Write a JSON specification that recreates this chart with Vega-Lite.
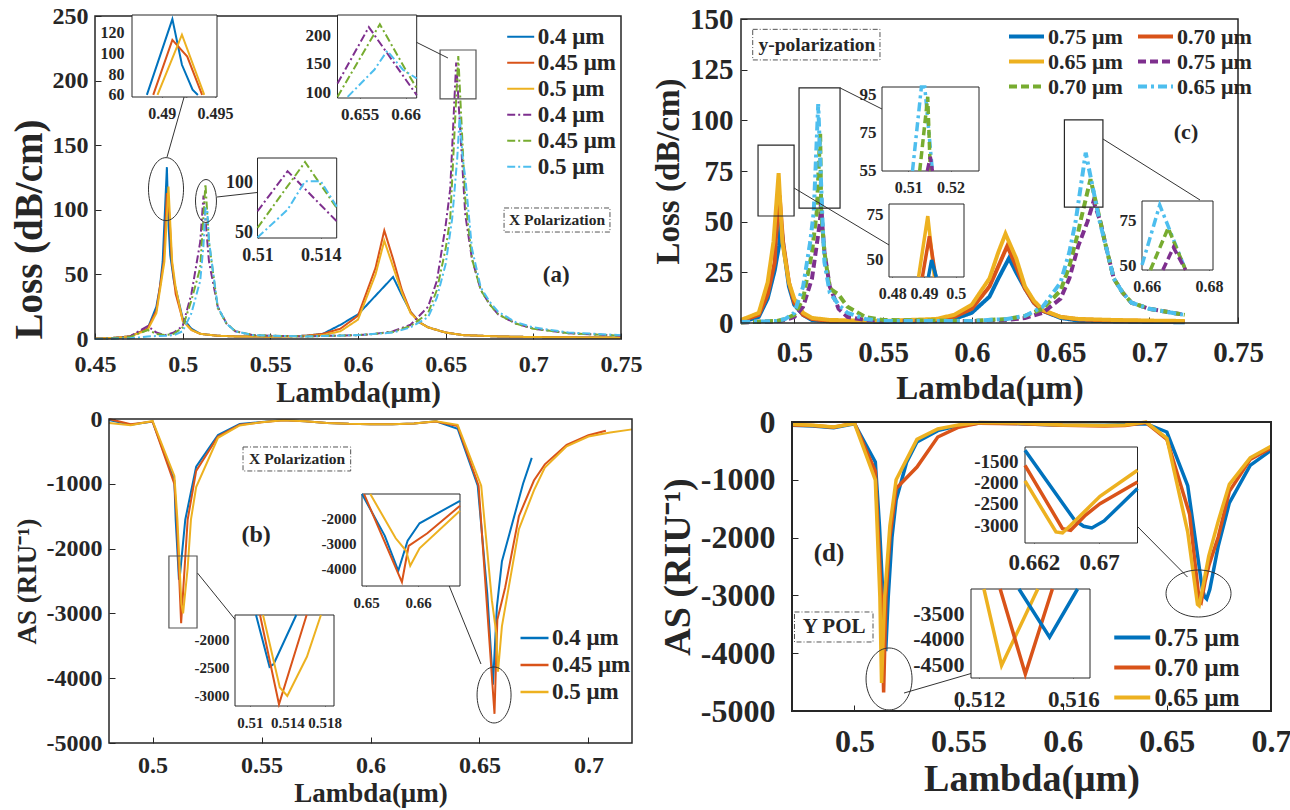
{
"$schema":"https://vega.github.io/schema/vega-lite/v6.json",
"width":1290,"height":810,"padding":0,"autosize":{"type":"none"},"background":"white",
"config":{"view":{"stroke":null},"font":"Liberation Serif",
 "locale":{"number":{"decimal":".","thousands":",","grouping":[3],"currency":["$",""],"minus":"-"}},
 "axis":{"labelFont":"Liberation Serif","titleFont":"Liberation Serif","labelFontWeight":"bold","titleFontWeight":"bold","labelColor":"#262626","titleColor":"#262626","tickColor":"#262626","domain":false,"grid":false,"labelOverlap":false,"labelFlush":false,"zindex":1,"tickWidth":1},
 "text":{"font":"Liberation Serif","fontWeight":"bold","color":"#262626"}},
"datasets":{
"A":[
{"k":"f","x":0.45,"x2":0.75,"y":0,"y2":250},
{"k":"bx","x":0.6833,"x2":0.7437,"y":82.8,"y2":101.4},
{"k":"lbl","x":0.7135,"y":92.1,"t":"X Polarization"},
{"k":"pl","x":0.713,"y":49.5,"t":"(a)"},
{"k":"rc","x":0.6468,"x2":0.6673,"y":185.8,"y2":223.7},
{"k":"ar","x":0.4911,"y":140.9,"x2":0.5013,"y2":189.6},
{"k":"ar","x":0.5196,"y":109.9,"x2":0.5452,"y2":113.8},
{"k":"ar","x":0.6513,"y":217.5,"x2":0.6228,"y2":236.8},
{"k":"h1","x":0.5013,"y":189.6},
{"k":"h2","x":0.5452,"y":113.8},
{"k":"h3","x":0.6228,"y":236.8},
{"k":"e1","x":0.4905,"y":116},
{"k":"e2","x":0.5133,"y":106.8},
{"k":"f1","x":0.4872,"x2":0.4952,"y":58,"y2":137},
{"k":"f2","x":0.6526,"x2":0.6612,"y":91,"y2":235},
{"k":"f3","x":0.51,"x2":0.515,"y":45,"y2":124},
{"k":"m","s":"0.4 μm|1","x":0.45,"y":0.3},{"k":"m","s":"0.4 μm|1","x":0.46,"y":0.8},{"k":"m","s":"0.4 μm|1","x":0.47,"y":2},{"k":"m","s":"0.4 μm|1","x":0.48,"y":8},{"k":"m","s":"0.4 μm|1","x":0.485,"y":25},{"k":"m","s":"0.4 μm|1","x":0.487,"y":40},{"k":"m","s":"0.4 μm|1","x":0.4886,"y":60},{"k":"m","s":"0.4 μm|1","x":0.491,"y":133},{"k":"m","s":"0.4 μm|1","x":0.4919,"y":89},{"k":"m","s":"0.4 μm|1","x":0.4929,"y":65},{"k":"m","s":"0.4 μm|1","x":0.495,"y":45},{"k":"m","s":"0.4 μm|1","x":0.5,"y":16},{"k":"m","s":"0.4 μm|1","x":0.505,"y":8},{"k":"m","s":"0.4 μm|1","x":0.51,"y":4},{"k":"m","s":"0.4 μm|1","x":0.52,"y":2.5},{"k":"m","s":"0.4 μm|1","x":0.53,"y":2},{"k":"m","s":"0.4 μm|1","x":0.55,"y":1.8},{"k":"m","s":"0.4 μm|1","x":0.57,"y":2.5},{"k":"m","s":"0.4 μm|1","x":0.58,"y":4},{"k":"m","s":"0.4 μm|1","x":0.59,"y":11},{"k":"m","s":"0.4 μm|1","x":0.6,"y":19},{"k":"m","s":"0.4 μm|1","x":0.62,"y":48},{"k":"m","s":"0.4 μm|1","x":0.625,"y":34},{"k":"m","s":"0.4 μm|1","x":0.63,"y":21},{"k":"m","s":"0.4 μm|1","x":0.635,"y":13},{"k":"m","s":"0.4 μm|1","x":0.64,"y":9},{"k":"m","s":"0.4 μm|1","x":0.65,"y":5},{"k":"m","s":"0.4 μm|1","x":0.66,"y":3},{"k":"m","s":"0.4 μm|1","x":0.68,"y":2},{"k":"m","s":"0.4 μm|1","x":0.7,"y":1.5},{"k":"m","s":"0.4 μm|1","x":0.75,"y":1},
{"k":"m","s":"0.45 μm|2","x":0.45,"y":0.3},{"k":"m","s":"0.45 μm|2","x":0.46,"y":0.8},{"k":"m","s":"0.45 μm|2","x":0.47,"y":2},{"k":"m","s":"0.45 μm|2","x":0.48,"y":8},{"k":"m","s":"0.45 μm|2","x":0.485,"y":22},{"k":"m","s":"0.45 μm|2","x":0.4892,"y":60},{"k":"m","s":"0.45 μm|2","x":0.491,"y":113},{"k":"m","s":"0.45 μm|2","x":0.4924,"y":97},{"k":"m","s":"0.45 μm|2","x":0.4938,"y":60},{"k":"m","s":"0.45 μm|2","x":0.496,"y":35},{"k":"m","s":"0.45 μm|2","x":0.5,"y":15},{"k":"m","s":"0.45 μm|2","x":0.505,"y":7},{"k":"m","s":"0.45 μm|2","x":0.51,"y":4},{"k":"m","s":"0.45 μm|2","x":0.52,"y":2.5},{"k":"m","s":"0.45 μm|2","x":0.53,"y":2},{"k":"m","s":"0.45 μm|2","x":0.55,"y":1.8},{"k":"m","s":"0.45 μm|2","x":0.57,"y":2.5},{"k":"m","s":"0.45 μm|2","x":0.58,"y":4},{"k":"m","s":"0.45 μm|2","x":0.59,"y":8},{"k":"m","s":"0.45 μm|2","x":0.6,"y":18},{"k":"m","s":"0.45 μm|2","x":0.61,"y":55},{"k":"m","s":"0.45 μm|2","x":0.615,"y":84},{"k":"m","s":"0.45 μm|2","x":0.62,"y":62},{"k":"m","s":"0.45 μm|2","x":0.625,"y":38},{"k":"m","s":"0.45 μm|2","x":0.63,"y":21},{"k":"m","s":"0.45 μm|2","x":0.635,"y":13},{"k":"m","s":"0.45 μm|2","x":0.64,"y":9},{"k":"m","s":"0.45 μm|2","x":0.65,"y":5},{"k":"m","s":"0.45 μm|2","x":0.66,"y":3},{"k":"m","s":"0.45 μm|2","x":0.68,"y":2},{"k":"m","s":"0.45 μm|2","x":0.7,"y":1.5},{"k":"m","s":"0.45 μm|2","x":0.75,"y":1},
{"k":"m","s":"0.5 μm|3","x":0.45,"y":0.3},{"k":"m","s":"0.5 μm|3","x":0.46,"y":0.8},{"k":"m","s":"0.5 μm|3","x":0.47,"y":2},{"k":"m","s":"0.5 μm|3","x":0.48,"y":7},{"k":"m","s":"0.5 μm|3","x":0.485,"y":20},{"k":"m","s":"0.5 μm|3","x":0.4896,"y":60},{"k":"m","s":"0.5 μm|3","x":0.4919,"y":118},{"k":"m","s":"0.5 μm|3","x":0.494,"y":60},{"k":"m","s":"0.5 μm|3","x":0.496,"y":40},{"k":"m","s":"0.5 μm|3","x":0.5,"y":14},{"k":"m","s":"0.5 μm|3","x":0.505,"y":7},{"k":"m","s":"0.5 μm|3","x":0.51,"y":4},{"k":"m","s":"0.5 μm|3","x":0.52,"y":2.5},{"k":"m","s":"0.5 μm|3","x":0.53,"y":2},{"k":"m","s":"0.5 μm|3","x":0.55,"y":1.8},{"k":"m","s":"0.5 μm|3","x":0.57,"y":2.2},{"k":"m","s":"0.5 μm|3","x":0.58,"y":3},{"k":"m","s":"0.5 μm|3","x":0.59,"y":6},{"k":"m","s":"0.5 μm|3","x":0.6,"y":15},{"k":"m","s":"0.5 μm|3","x":0.61,"y":50},{"k":"m","s":"0.5 μm|3","x":0.615,"y":76},{"k":"m","s":"0.5 μm|3","x":0.62,"y":56},{"k":"m","s":"0.5 μm|3","x":0.625,"y":36},{"k":"m","s":"0.5 μm|3","x":0.63,"y":20},{"k":"m","s":"0.5 μm|3","x":0.635,"y":13},{"k":"m","s":"0.5 μm|3","x":0.64,"y":9},{"k":"m","s":"0.5 μm|3","x":0.65,"y":5},{"k":"m","s":"0.5 μm|3","x":0.66,"y":3},{"k":"m","s":"0.5 μm|3","x":0.68,"y":2},{"k":"m","s":"0.5 μm|3","x":0.7,"y":1.5},{"k":"m","s":"0.5 μm|3","x":0.75,"y":1},
{"k":"m","s":"0.4 μm|4","x":0.45,"y":0},{"k":"m","s":"0.4 μm|4","x":0.46,"y":0.5},{"k":"m","s":"0.4 μm|4","x":0.47,"y":2},{"k":"m","s":"0.4 μm|4","x":0.48,"y":10},{"k":"m","s":"0.4 μm|4","x":0.485,"y":5},{"k":"m","s":"0.4 μm|4","x":0.49,"y":3},{"k":"m","s":"0.4 μm|4","x":0.495,"y":5},{"k":"m","s":"0.4 μm|4","x":0.5,"y":10},{"k":"m","s":"0.4 μm|4","x":0.505,"y":35},{"k":"m","s":"0.4 μm|4","x":0.51,"y":75},{"k":"m","s":"0.4 μm|4","x":0.5119,"y":111},{"k":"m","s":"0.4 μm|4","x":0.515,"y":60},{"k":"m","s":"0.4 μm|4","x":0.52,"y":25},{"k":"m","s":"0.4 μm|4","x":0.525,"y":12},{"k":"m","s":"0.4 μm|4","x":0.53,"y":6},{"k":"m","s":"0.4 μm|4","x":0.54,"y":3},{"k":"m","s":"0.4 μm|4","x":0.55,"y":2.5},{"k":"m","s":"0.4 μm|4","x":0.57,"y":2},{"k":"m","s":"0.4 μm|4","x":0.6,"y":3},{"k":"m","s":"0.4 μm|4","x":0.61,"y":4},{"k":"m","s":"0.4 μm|4","x":0.62,"y":6},{"k":"m","s":"0.4 μm|4","x":0.63,"y":11},{"k":"m","s":"0.4 μm|4","x":0.64,"y":25},{"k":"m","s":"0.4 μm|4","x":0.645,"y":45},{"k":"m","s":"0.4 μm|4","x":0.65,"y":88},{"k":"m","s":"0.4 μm|4","x":0.6526,"y":116},{"k":"m","s":"0.4 μm|4","x":0.656,"y":214},{"k":"m","s":"0.4 μm|4","x":0.6612,"y":96},{"k":"m","s":"0.4 μm|4","x":0.665,"y":62},{"k":"m","s":"0.4 μm|4","x":0.67,"y":38},{"k":"m","s":"0.4 μm|4","x":0.675,"y":27},{"k":"m","s":"0.4 μm|4","x":0.68,"y":19},{"k":"m","s":"0.4 μm|4","x":0.69,"y":12},{"k":"m","s":"0.4 μm|4","x":0.7,"y":8},{"k":"m","s":"0.4 μm|4","x":0.72,"y":4.5},{"k":"m","s":"0.4 μm|4","x":0.75,"y":2.5},
{"k":"m","s":"0.45 μm|5","x":0.45,"y":0},{"k":"m","s":"0.45 μm|5","x":0.46,"y":0.5},{"k":"m","s":"0.45 μm|5","x":0.47,"y":1.5},{"k":"m","s":"0.45 μm|5","x":0.48,"y":7},{"k":"m","s":"0.45 μm|5","x":0.485,"y":4},{"k":"m","s":"0.45 μm|5","x":0.49,"y":3},{"k":"m","s":"0.45 μm|5","x":0.495,"y":4},{"k":"m","s":"0.45 μm|5","x":0.5,"y":9},{"k":"m","s":"0.45 μm|5","x":0.505,"y":30},{"k":"m","s":"0.45 μm|5","x":0.51,"y":55},{"k":"m","s":"0.45 μm|5","x":0.513,"y":120},{"k":"m","s":"0.45 μm|5","x":0.515,"y":75},{"k":"m","s":"0.45 μm|5","x":0.52,"y":24},{"k":"m","s":"0.45 μm|5","x":0.525,"y":12},{"k":"m","s":"0.45 μm|5","x":0.53,"y":6},{"k":"m","s":"0.45 μm|5","x":0.54,"y":3},{"k":"m","s":"0.45 μm|5","x":0.55,"y":2.5},{"k":"m","s":"0.45 μm|5","x":0.57,"y":2},{"k":"m","s":"0.45 μm|5","x":0.6,"y":3},{"k":"m","s":"0.45 μm|5","x":0.61,"y":4},{"k":"m","s":"0.45 μm|5","x":0.62,"y":5.5},{"k":"m","s":"0.45 μm|5","x":0.63,"y":10},{"k":"m","s":"0.45 μm|5","x":0.64,"y":20},{"k":"m","s":"0.45 μm|5","x":0.645,"y":38},{"k":"m","s":"0.45 μm|5","x":0.65,"y":70},{"k":"m","s":"0.45 μm|5","x":0.6526,"y":93},{"k":"m","s":"0.45 μm|5","x":0.6572,"y":219},{"k":"m","s":"0.45 μm|5","x":0.66,"y":140},{"k":"m","s":"0.45 μm|5","x":0.6612,"y":108},{"k":"m","s":"0.45 μm|5","x":0.665,"y":62},{"k":"m","s":"0.45 μm|5","x":0.67,"y":38},{"k":"m","s":"0.45 μm|5","x":0.675,"y":27},{"k":"m","s":"0.45 μm|5","x":0.68,"y":19},{"k":"m","s":"0.45 μm|5","x":0.69,"y":12},{"k":"m","s":"0.45 μm|5","x":0.7,"y":8},{"k":"m","s":"0.45 μm|5","x":0.72,"y":4.5},{"k":"m","s":"0.45 μm|5","x":0.75,"y":2.5},
{"k":"m","s":"0.5 μm|6","x":0.45,"y":0},{"k":"m","s":"0.5 μm|6","x":0.47,"y":0.5},{"k":"m","s":"0.5 μm|6","x":0.48,"y":2},{"k":"m","s":"0.5 μm|6","x":0.49,"y":2.5},{"k":"m","s":"0.5 μm|6","x":0.495,"y":3},{"k":"m","s":"0.5 μm|6","x":0.5,"y":6},{"k":"m","s":"0.5 μm|6","x":0.505,"y":20},{"k":"m","s":"0.5 μm|6","x":0.51,"y":45},{"k":"m","s":"0.5 μm|6","x":0.5119,"y":73},{"k":"m","s":"0.5 μm|6","x":0.513,"y":101},{"k":"m","s":"0.5 μm|6","x":0.514,"y":101},{"k":"m","s":"0.5 μm|6","x":0.515,"y":76},{"k":"m","s":"0.5 μm|6","x":0.52,"y":25},{"k":"m","s":"0.5 μm|6","x":0.525,"y":12},{"k":"m","s":"0.5 μm|6","x":0.53,"y":6},{"k":"m","s":"0.5 μm|6","x":0.54,"y":3},{"k":"m","s":"0.5 μm|6","x":0.55,"y":2.5},{"k":"m","s":"0.5 μm|6","x":0.57,"y":2},{"k":"m","s":"0.5 μm|6","x":0.6,"y":3},{"k":"m","s":"0.5 μm|6","x":0.61,"y":4},{"k":"m","s":"0.5 μm|6","x":0.62,"y":5},{"k":"m","s":"0.5 μm|6","x":0.63,"y":9},{"k":"m","s":"0.5 μm|6","x":0.64,"y":17},{"k":"m","s":"0.5 μm|6","x":0.645,"y":32},{"k":"m","s":"0.5 μm|6","x":0.65,"y":58},{"k":"m","s":"0.5 μm|6","x":0.6537,"y":93},{"k":"m","s":"0.5 μm|6","x":0.6566,"y":140},{"k":"m","s":"0.5 μm|6","x":0.658,"y":173},{"k":"m","s":"0.5 μm|6","x":0.6597,"y":140},{"k":"m","s":"0.5 μm|6","x":0.6612,"y":125},{"k":"m","s":"0.5 μm|6","x":0.665,"y":70},{"k":"m","s":"0.5 μm|6","x":0.67,"y":40},{"k":"m","s":"0.5 μm|6","x":0.675,"y":29},{"k":"m","s":"0.5 μm|6","x":0.68,"y":21},{"k":"m","s":"0.5 μm|6","x":0.69,"y":13},{"k":"m","s":"0.5 μm|6","x":0.7,"y":9},{"k":"m","s":"0.5 μm|6","x":0.72,"y":5},{"k":"m","s":"0.5 μm|6","x":0.75,"y":3},
{"k":"i1","s":"0.4 μm|1","x":0.4886,"y":60},{"k":"i1","s":"0.4 μm|1","x":0.491,"y":133},{"k":"i1","s":"0.4 μm|1","x":0.4919,"y":89},{"k":"i1","s":"0.4 μm|1","x":0.4929,"y":65},{"k":"i1","s":"0.4 μm|1","x":0.4934,"y":60},
{"k":"i1","s":"0.45 μm|2","x":0.4892,"y":60},{"k":"i1","s":"0.45 μm|2","x":0.491,"y":113},{"k":"i1","s":"0.45 μm|2","x":0.4924,"y":97},{"k":"i1","s":"0.45 μm|2","x":0.4938,"y":60},
{"k":"i1","s":"0.5 μm|3","x":0.4896,"y":60},{"k":"i1","s":"0.5 μm|3","x":0.4919,"y":118},{"k":"i1","s":"0.5 μm|3","x":0.494,"y":60},
{"k":"i2","s":"0.4 μm|4","x":0.6526,"y":116},{"k":"i2","s":"0.4 μm|4","x":0.656,"y":214},{"k":"i2","s":"0.4 μm|4","x":0.6612,"y":96},
{"k":"i2","s":"0.45 μm|5","x":0.6526,"y":93},{"k":"i2","s":"0.45 μm|5","x":0.6572,"y":219},{"k":"i2","s":"0.45 μm|5","x":0.66,"y":140},{"k":"i2","s":"0.45 μm|5","x":0.6612,"y":108},
{"k":"i2","s":"0.5 μm|6","x":0.6537,"y":93},{"k":"i2","s":"0.5 μm|6","x":0.6566,"y":140},{"k":"i2","s":"0.5 μm|6","x":0.658,"y":173},{"k":"i2","s":"0.5 μm|6","x":0.6597,"y":140},{"k":"i2","s":"0.5 μm|6","x":0.6612,"y":125},
{"k":"i3","s":"0.4 μm|4","x":0.51,"y":71.4},{"k":"i3","s":"0.4 μm|4","x":0.5119,"y":111},{"k":"i3","s":"0.4 μm|4","x":0.515,"y":61.5},
{"k":"i3","s":"0.45 μm|5","x":0.51,"y":55},{"k":"i3","s":"0.45 μm|5","x":0.513,"y":120},{"k":"i3","s":"0.45 μm|5","x":0.515,"y":74.7},
{"k":"i3","s":"0.5 μm|6","x":0.51,"y":45.5},{"k":"i3","s":"0.5 μm|6","x":0.5119,"y":73},{"k":"i3","s":"0.5 μm|6","x":0.513,"y":101},{"k":"i3","s":"0.5 μm|6","x":0.514,"y":101},{"k":"i3","s":"0.5 μm|6","x":0.515,"y":76}
],
"C":[
{"k":"f","x":0.47,"x2":0.75,"y":0,"y2":150},
{"k":"bx","x":0.4766,"x2":0.5483,"y":129.8,"y2":144.9},
{"k":"lbl","x":0.5128,"y":137.2,"t":"y-polarization"},
{"k":"pl","x":0.7207,"y":94.2,"t":"(c)"},
{"k":"rc","x":0.4796,"x2":0.4999,"y":52.8,"y2":87.8},
{"k":"rc","x":0.5027,"x2":0.5258,"y":56.7,"y2":116},
{"k":"rc","x":0.6522,"x2":0.6739,"y":57.2,"y2":100.2},
{"k":"ar","x":0.5258,"y":116,"x2":0.5494,"y2":105.6},
{"k":"ar","x":0.4999,"y":66.6,"x2":0.5534,"y2":38.5},
{"k":"ar","x":0.6739,"y":90.8,"x2":0.7286,"y2":60.7},
{"k":"f1","x":0.5038,"x2":0.5267,"y":54.5,"y2":98.7},
{"k":"f2","x":0.479,"x2":0.5026,"y":40.7,"y2":80.6},
{"k":"f3","x":0.6585,"x2":0.6813,"y":47.2,"y2":86.3},
{"k":"m","s":"0.75 μm|1","x":0.47,"y":0.5},{"k":"m","s":"0.75 μm|1","x":0.48,"y":3},{"k":"m","s":"0.75 μm|1","x":0.485,"y":12},{"k":"m","s":"0.75 μm|1","x":0.489,"y":26},{"k":"m","s":"0.75 μm|1","x":0.4914,"y":38},{"k":"m","s":"0.75 μm|1","x":0.4924,"y":50},{"k":"m","s":"0.75 μm|1","x":0.4939,"y":38},{"k":"m","s":"0.75 μm|1","x":0.497,"y":18},{"k":"m","s":"0.75 μm|1","x":0.5,"y":9},{"k":"m","s":"0.75 μm|1","x":0.505,"y":4},{"k":"m","s":"0.75 μm|1","x":0.51,"y":1.5},{"k":"m","s":"0.75 μm|1","x":0.52,"y":0.8},{"k":"m","s":"0.75 μm|1","x":0.55,"y":0.5},{"k":"m","s":"0.75 μm|1","x":0.58,"y":1},{"k":"m","s":"0.75 μm|1","x":0.59,"y":2},{"k":"m","s":"0.75 μm|1","x":0.6,"y":5},{"k":"m","s":"0.75 μm|1","x":0.61,"y":13},{"k":"m","s":"0.75 μm|1","x":0.615,"y":22},{"k":"m","s":"0.75 μm|1","x":0.621,"y":32},{"k":"m","s":"0.75 μm|1","x":0.625,"y":25},{"k":"m","s":"0.75 μm|1","x":0.63,"y":17},{"k":"m","s":"0.75 μm|1","x":0.635,"y":10},{"k":"m","s":"0.75 μm|1","x":0.64,"y":6},{"k":"m","s":"0.75 μm|1","x":0.65,"y":2.5},{"k":"m","s":"0.75 μm|1","x":0.66,"y":1.2},{"k":"m","s":"0.75 μm|1","x":0.68,"y":0.8},{"k":"m","s":"0.75 μm|1","x":0.7,"y":0.5},{"k":"m","s":"0.75 μm|1","x":0.72,"y":0.4},
{"k":"m","s":"0.70 μm|2","x":0.47,"y":1},{"k":"m","s":"0.70 μm|2","x":0.48,"y":4},{"k":"m","s":"0.70 μm|2","x":0.485,"y":14},{"k":"m","s":"0.70 μm|2","x":0.489,"y":30},{"k":"m","s":"0.70 μm|2","x":0.4895,"y":40},{"k":"m","s":"0.70 μm|2","x":0.4917,"y":63},{"k":"m","s":"0.70 μm|2","x":0.4937,"y":40},{"k":"m","s":"0.70 μm|2","x":0.497,"y":20},{"k":"m","s":"0.70 μm|2","x":0.5,"y":10},{"k":"m","s":"0.70 μm|2","x":0.505,"y":4},{"k":"m","s":"0.70 μm|2","x":0.51,"y":2},{"k":"m","s":"0.70 μm|2","x":0.52,"y":1},{"k":"m","s":"0.70 μm|2","x":0.55,"y":0.8},{"k":"m","s":"0.70 μm|2","x":0.58,"y":1.5},{"k":"m","s":"0.70 μm|2","x":0.59,"y":3},{"k":"m","s":"0.70 μm|2","x":0.6,"y":7},{"k":"m","s":"0.70 μm|2","x":0.61,"y":18},{"k":"m","s":"0.70 μm|2","x":0.615,"y":28},{"k":"m","s":"0.70 μm|2","x":0.62,"y":38},{"k":"m","s":"0.70 μm|2","x":0.625,"y":28},{"k":"m","s":"0.70 μm|2","x":0.63,"y":17},{"k":"m","s":"0.70 μm|2","x":0.635,"y":10},{"k":"m","s":"0.70 μm|2","x":0.64,"y":6},{"k":"m","s":"0.70 μm|2","x":0.65,"y":3},{"k":"m","s":"0.70 μm|2","x":0.66,"y":1.8},{"k":"m","s":"0.70 μm|2","x":0.68,"y":1.2},{"k":"m","s":"0.70 μm|2","x":0.7,"y":1},{"k":"m","s":"0.70 μm|2","x":0.72,"y":0.8},
{"k":"m","s":"0.65 μm|3","x":0.47,"y":1.5},{"k":"m","s":"0.65 μm|3","x":0.48,"y":5},{"k":"m","s":"0.65 μm|3","x":0.485,"y":20},{"k":"m","s":"0.65 μm|3","x":0.4883,"y":40},{"k":"m","s":"0.65 μm|3","x":0.4912,"y":74},{"k":"m","s":"0.65 μm|3","x":0.4933,"y":40},{"k":"m","s":"0.65 μm|3","x":0.497,"y":20},{"k":"m","s":"0.65 μm|3","x":0.5,"y":12},{"k":"m","s":"0.65 μm|3","x":0.505,"y":5},{"k":"m","s":"0.65 μm|3","x":0.51,"y":2.5},{"k":"m","s":"0.65 μm|3","x":0.52,"y":1.5},{"k":"m","s":"0.65 μm|3","x":0.55,"y":1},{"k":"m","s":"0.65 μm|3","x":0.58,"y":2},{"k":"m","s":"0.65 μm|3","x":0.59,"y":4},{"k":"m","s":"0.65 μm|3","x":0.6,"y":9},{"k":"m","s":"0.65 μm|3","x":0.61,"y":22},{"k":"m","s":"0.65 μm|3","x":0.615,"y":35},{"k":"m","s":"0.65 μm|3","x":0.619,"y":44},{"k":"m","s":"0.65 μm|3","x":0.625,"y":32},{"k":"m","s":"0.65 μm|3","x":0.63,"y":18},{"k":"m","s":"0.65 μm|3","x":0.635,"y":11},{"k":"m","s":"0.65 μm|3","x":0.64,"y":6.5},{"k":"m","s":"0.65 μm|3","x":0.65,"y":3},{"k":"m","s":"0.65 μm|3","x":0.66,"y":2},{"k":"m","s":"0.65 μm|3","x":0.68,"y":1.5},{"k":"m","s":"0.65 μm|3","x":0.7,"y":1.2},{"k":"m","s":"0.65 μm|3","x":0.72,"y":1},
{"k":"m","s":"0.75 μm|4","x":0.47,"y":0.3},{"k":"m","s":"0.75 μm|4","x":0.49,"y":0.8},{"k":"m","s":"0.75 μm|4","x":0.495,"y":1.5},{"k":"m","s":"0.75 μm|4","x":0.5,"y":3},{"k":"m","s":"0.75 μm|4","x":0.505,"y":8},{"k":"m","s":"0.75 μm|4","x":0.51,"y":22},{"k":"m","s":"0.75 μm|4","x":0.5145,"y":50},{"k":"m","s":"0.75 μm|4","x":0.5152,"y":62},{"k":"m","s":"0.75 μm|4","x":0.5157,"y":50},{"k":"m","s":"0.75 μm|4","x":0.517,"y":35},{"k":"m","s":"0.75 μm|4","x":0.52,"y":18},{"k":"m","s":"0.75 μm|4","x":0.525,"y":7},{"k":"m","s":"0.75 μm|4","x":0.53,"y":3},{"k":"m","s":"0.75 μm|4","x":0.54,"y":1.5},{"k":"m","s":"0.75 μm|4","x":0.55,"y":1},{"k":"m","s":"0.75 μm|4","x":0.6,"y":1},{"k":"m","s":"0.75 μm|4","x":0.62,"y":1.5},{"k":"m","s":"0.75 μm|4","x":0.63,"y":2.5},{"k":"m","s":"0.75 μm|4","x":0.64,"y":5},{"k":"m","s":"0.75 μm|4","x":0.65,"y":12},{"k":"m","s":"0.75 μm|4","x":0.655,"y":22},{"k":"m","s":"0.75 μm|4","x":0.66,"y":38},{"k":"m","s":"0.75 μm|4","x":0.6652,"y":50},{"k":"m","s":"0.75 μm|4","x":0.6686,"y":60},{"k":"m","s":"0.75 μm|4","x":0.6725,"y":50},{"k":"m","s":"0.75 μm|4","x":0.675,"y":40},{"k":"m","s":"0.75 μm|4","x":0.68,"y":22},{"k":"m","s":"0.75 μm|4","x":0.685,"y":15},{"k":"m","s":"0.75 μm|4","x":0.69,"y":10},{"k":"m","s":"0.75 μm|4","x":0.7,"y":7},{"k":"m","s":"0.75 μm|4","x":0.72,"y":4},
{"k":"m","s":"0.70 μm|5","x":0.47,"y":0.3},{"k":"m","s":"0.70 μm|5","x":0.49,"y":1},{"k":"m","s":"0.70 μm|5","x":0.495,"y":2},{"k":"m","s":"0.70 μm|5","x":0.5,"y":4},{"k":"m","s":"0.70 μm|5","x":0.505,"y":12},{"k":"m","s":"0.70 μm|5","x":0.51,"y":35},{"k":"m","s":"0.70 μm|5","x":0.5127,"y":55},{"k":"m","s":"0.70 μm|5","x":0.5146,"y":93.6},{"k":"m","s":"0.70 μm|5","x":0.5152,"y":55},{"k":"m","s":"0.70 μm|5","x":0.517,"y":35},{"k":"m","s":"0.70 μm|5","x":0.52,"y":17},{"k":"m","s":"0.70 μm|5","x":0.525,"y":14},{"k":"m","s":"0.70 μm|5","x":0.53,"y":8},{"k":"m","s":"0.70 μm|5","x":0.54,"y":3},{"k":"m","s":"0.70 μm|5","x":0.55,"y":1.5},{"k":"m","s":"0.70 μm|5","x":0.6,"y":1},{"k":"m","s":"0.70 μm|5","x":0.62,"y":2},{"k":"m","s":"0.70 μm|5","x":0.63,"y":3.5},{"k":"m","s":"0.70 μm|5","x":0.64,"y":7},{"k":"m","s":"0.70 μm|5","x":0.65,"y":16},{"k":"m","s":"0.70 μm|5","x":0.655,"y":28},{"k":"m","s":"0.70 μm|5","x":0.66,"y":45},{"k":"m","s":"0.70 μm|5","x":0.6612,"y":50},{"k":"m","s":"0.70 μm|5","x":0.6669,"y":71},{"k":"m","s":"0.70 μm|5","x":0.6725,"y":50},{"k":"m","s":"0.70 μm|5","x":0.675,"y":40},{"k":"m","s":"0.70 μm|5","x":0.68,"y":22},{"k":"m","s":"0.70 μm|5","x":0.685,"y":15},{"k":"m","s":"0.70 μm|5","x":0.69,"y":10},{"k":"m","s":"0.70 μm|5","x":0.7,"y":7},{"k":"m","s":"0.70 μm|5","x":0.72,"y":4},
{"k":"m","s":"0.65 μm|6","x":0.47,"y":0.5},{"k":"m","s":"0.65 μm|6","x":0.49,"y":1},{"k":"m","s":"0.65 μm|6","x":0.495,"y":2},{"k":"m","s":"0.65 μm|6","x":0.5,"y":5},{"k":"m","s":"0.65 μm|6","x":0.505,"y":18},{"k":"m","s":"0.65 μm|6","x":0.509,"y":40},{"k":"m","s":"0.65 μm|6","x":0.511,"y":55},{"k":"m","s":"0.65 μm|6","x":0.5135,"y":108},{"k":"m","s":"0.65 μm|6","x":0.5157,"y":55},{"k":"m","s":"0.65 μm|6","x":0.517,"y":30},{"k":"m","s":"0.65 μm|6","x":0.52,"y":15},{"k":"m","s":"0.65 μm|6","x":0.525,"y":9},{"k":"m","s":"0.65 μm|6","x":0.53,"y":5},{"k":"m","s":"0.65 μm|6","x":0.54,"y":2},{"k":"m","s":"0.65 μm|6","x":0.55,"y":1},{"k":"m","s":"0.65 μm|6","x":0.6,"y":1},{"k":"m","s":"0.65 μm|6","x":0.62,"y":2},{"k":"m","s":"0.65 μm|6","x":0.63,"y":3.5},{"k":"m","s":"0.65 μm|6","x":0.64,"y":8},{"k":"m","s":"0.65 μm|6","x":0.65,"y":20},{"k":"m","s":"0.65 μm|6","x":0.655,"y":35},{"k":"m","s":"0.65 μm|6","x":0.6585,"y":50},{"k":"m","s":"0.65 μm|6","x":0.6642,"y":84},{"k":"m","s":"0.65 μm|6","x":0.6721,"y":50},{"k":"m","s":"0.65 μm|6","x":0.675,"y":40},{"k":"m","s":"0.65 μm|6","x":0.68,"y":22},{"k":"m","s":"0.65 μm|6","x":0.685,"y":15},{"k":"m","s":"0.65 μm|6","x":0.69,"y":10},{"k":"m","s":"0.65 μm|6","x":0.7,"y":7},{"k":"m","s":"0.65 μm|6","x":0.72,"y":4},
{"k":"i1","s":"0.65 μm|6","x":0.511,"y":54.5},{"k":"i1","s":"0.65 μm|6","x":0.5131,"y":98.7},{"k":"i1","s":"0.65 μm|6","x":0.5139,"y":98.7},{"k":"i1","s":"0.65 μm|6","x":0.5157,"y":54.5},
{"k":"i1","s":"0.70 μm|5","x":0.5127,"y":54.5},{"k":"i1","s":"0.70 μm|5","x":0.5146,"y":93.6},{"k":"i1","s":"0.70 μm|5","x":0.5152,"y":54.5},
{"k":"i1","s":"0.75 μm|4","x":0.5145,"y":54.5},{"k":"i1","s":"0.75 μm|4","x":0.5152,"y":62},{"k":"i1","s":"0.75 μm|4","x":0.5157,"y":54.5},
{"k":"i2","s":"0.65 μm|3","x":0.4883,"y":40.7},{"k":"i2","s":"0.65 μm|3","x":0.4912,"y":74},{"k":"i2","s":"0.65 μm|3","x":0.4933,"y":40.7},
{"k":"i2","s":"0.70 μm|2","x":0.4895,"y":40.7},{"k":"i2","s":"0.70 μm|2","x":0.4917,"y":63},{"k":"i2","s":"0.70 μm|2","x":0.4937,"y":40.7},
{"k":"i2","s":"0.75 μm|1","x":0.4914,"y":40.7},{"k":"i2","s":"0.75 μm|1","x":0.4924,"y":50},{"k":"i2","s":"0.75 μm|1","x":0.4939,"y":40.7},
{"k":"i3","s":"0.65 μm|6","x":0.6585,"y":50},{"k":"i3","s":"0.65 μm|6","x":0.6642,"y":84},{"k":"i3","s":"0.65 μm|6","x":0.6725,"y":47.2},
{"k":"i3","s":"0.70 μm|5","x":0.6612,"y":47.2},{"k":"i3","s":"0.70 μm|5","x":0.6669,"y":71},{"k":"i3","s":"0.70 μm|5","x":0.6725,"y":47.2},
{"k":"i3","s":"0.75 μm|4","x":0.6652,"y":47.2},{"k":"i3","s":"0.75 μm|4","x":0.6686,"y":60},{"k":"i3","s":"0.75 μm|4","x":0.6725,"y":47.2}
],
"B":[
{"k":"f","x":0.48,"x2":0.72,"y":-5000,"y2":0},
{"k":"bx","x":0.5415,"x2":0.5909,"y":-802,"y2":-432},
{"k":"lbl","x":0.5663,"y":-617,"t":"X Polarization"},
{"k":"pl","x":0.5475,"y":-1790,"t":"(b)"},
{"k":"rc","x":0.5075,"x2":0.5204,"y":-3225,"y2":-2114},
{"k":"ar","x":0.5206,"y":-2377,"x2":0.5429,"y2":-3303},
{"k":"ar","x":0.6507,"y":-3781,"x2":0.6337,"y2":-2377},
{"k":"h1","x":0.5429,"y":-3303},
{"k":"h2","x":0.6337,"y":-2377},
{"k":"e1","x":0.6567,"y":-4259},
{"k":"f1","x":0.5084,"x2":0.519,"y":-3180,"y2":-1554},
{"k":"f2","x":0.6492,"x2":0.6681,"y":-4708,"y2":-1028},
{"k":"m","s":"0.4 μm|1","x":0.48,"y":-15},{"k":"m","s":"0.4 μm|1","x":0.49,"y":-90},{"k":"m","s":"0.4 μm|1","x":0.5,"y":-40},{"k":"m","s":"0.4 μm|1","x":0.51,"y":-950},{"k":"m","s":"0.4 μm|1","x":0.5106,"y":-1554},{"k":"m","s":"0.4 μm|1","x":0.5121,"y":-2480},{"k":"m","s":"0.4 μm|1","x":0.5125,"y":-2430},{"k":"m","s":"0.4 μm|1","x":0.515,"y":-1554},{"k":"m","s":"0.4 μm|1","x":0.52,"y":-735},{"k":"m","s":"0.4 μm|1","x":0.53,"y":-247},{"k":"m","s":"0.4 μm|1","x":0.54,"y":-77},{"k":"m","s":"0.4 μm|1","x":0.55,"y":-45},{"k":"m","s":"0.4 μm|1","x":0.56,"y":-15},{"k":"m","s":"0.4 μm|1","x":0.57,"y":-35},{"k":"m","s":"0.4 μm|1","x":0.58,"y":-60},{"k":"m","s":"0.4 μm|1","x":0.59,"y":-75},{"k":"m","s":"0.4 μm|1","x":0.6,"y":-80},{"k":"m","s":"0.4 μm|1","x":0.61,"y":-80},{"k":"m","s":"0.4 μm|1","x":0.62,"y":-70},{"k":"m","s":"0.4 μm|1","x":0.63,"y":-35},{"k":"m","s":"0.4 μm|1","x":0.64,"y":-150},{"k":"m","s":"0.4 μm|1","x":0.6492,"y":-1030},{"k":"m","s":"0.4 μm|1","x":0.6536,"y":-2700},{"k":"m","s":"0.4 μm|1","x":0.6562,"y":-4100},{"k":"m","s":"0.4 μm|1","x":0.658,"y":-2900},{"k":"m","s":"0.4 μm|1","x":0.6603,"y":-2200},{"k":"m","s":"0.4 μm|1","x":0.67,"y":-1000},{"k":"m","s":"0.4 μm|1","x":0.674,"y":-600},
{"k":"m","s":"0.45 μm|2","x":0.48,"y":0},{"k":"m","s":"0.45 μm|2","x":0.49,"y":-80},{"k":"m","s":"0.45 μm|2","x":0.5,"y":-40},{"k":"m","s":"0.45 μm|2","x":0.51,"y":-1000},{"k":"m","s":"0.45 μm|2","x":0.5111,"y":-1554},{"k":"m","s":"0.45 μm|2","x":0.5131,"y":-3150},{"k":"m","s":"0.45 μm|2","x":0.5161,"y":-1554},{"k":"m","s":"0.45 μm|2","x":0.52,"y":-800},{"k":"m","s":"0.45 μm|2","x":0.53,"y":-270},{"k":"m","s":"0.45 μm|2","x":0.54,"y":-90},{"k":"m","s":"0.45 μm|2","x":0.55,"y":-50},{"k":"m","s":"0.45 μm|2","x":0.56,"y":-20},{"k":"m","s":"0.45 μm|2","x":0.57,"y":-35},{"k":"m","s":"0.45 μm|2","x":0.58,"y":-60},{"k":"m","s":"0.45 μm|2","x":0.59,"y":-75},{"k":"m","s":"0.45 μm|2","x":0.6,"y":-80},{"k":"m","s":"0.45 μm|2","x":0.61,"y":-80},{"k":"m","s":"0.45 μm|2","x":0.62,"y":-70},{"k":"m","s":"0.45 μm|2","x":0.63,"y":-40},{"k":"m","s":"0.45 μm|2","x":0.64,"y":-110},{"k":"m","s":"0.45 μm|2","x":0.6496,"y":-1030},{"k":"m","s":"0.45 μm|2","x":0.6569,"y":-4550},{"k":"m","s":"0.45 μm|2","x":0.6582,"y":-3100},{"k":"m","s":"0.45 μm|2","x":0.6618,"y":-2600},{"k":"m","s":"0.45 μm|2","x":0.6681,"y":-1500},{"k":"m","s":"0.45 μm|2","x":0.675,"y":-950},{"k":"m","s":"0.45 μm|2","x":0.68,"y":-700},{"k":"m","s":"0.45 μm|2","x":0.69,"y":-400},{"k":"m","s":"0.45 μm|2","x":0.7,"y":-250},{"k":"m","s":"0.45 μm|2","x":0.708,"y":-180},
{"k":"m","s":"0.5 μm|3","x":0.48,"y":-60},{"k":"m","s":"0.5 μm|3","x":0.49,"y":-95},{"k":"m","s":"0.5 μm|3","x":0.5,"y":-30},{"k":"m","s":"0.5 μm|3","x":0.51,"y":-880},{"k":"m","s":"0.5 μm|3","x":0.5114,"y":-1554},{"k":"m","s":"0.5 μm|3","x":0.5132,"y":-2850},{"k":"m","s":"0.5 μm|3","x":0.514,"y":-3000},{"k":"m","s":"0.5 μm|3","x":0.5161,"y":-2300},{"k":"m","s":"0.5 μm|3","x":0.5176,"y":-1554},{"k":"m","s":"0.5 μm|3","x":0.52,"y":-1050},{"k":"m","s":"0.5 μm|3","x":0.53,"y":-290},{"k":"m","s":"0.5 μm|3","x":0.54,"y":-100},{"k":"m","s":"0.5 μm|3","x":0.55,"y":-50},{"k":"m","s":"0.5 μm|3","x":0.56,"y":-20},{"k":"m","s":"0.5 μm|3","x":0.57,"y":-35},{"k":"m","s":"0.5 μm|3","x":0.58,"y":-60},{"k":"m","s":"0.5 μm|3","x":0.59,"y":-75},{"k":"m","s":"0.5 μm|3","x":0.6,"y":-80},{"k":"m","s":"0.5 μm|3","x":0.61,"y":-80},{"k":"m","s":"0.5 μm|3","x":0.62,"y":-70},{"k":"m","s":"0.5 μm|3","x":0.63,"y":-35},{"k":"m","s":"0.5 μm|3","x":0.64,"y":-90},{"k":"m","s":"0.5 μm|3","x":0.6508,"y":-1030},{"k":"m","s":"0.5 μm|3","x":0.6557,"y":-2800},{"k":"m","s":"0.5 μm|3","x":0.6577,"y":-3300},{"k":"m","s":"0.5 μm|3","x":0.6585,"y":-3900},{"k":"m","s":"0.5 μm|3","x":0.6603,"y":-3200},{"k":"m","s":"0.5 μm|3","x":0.6681,"y":-1700},{"k":"m","s":"0.5 μm|3","x":0.675,"y":-1100},{"k":"m","s":"0.5 μm|3","x":0.68,"y":-750},{"k":"m","s":"0.5 μm|3","x":0.69,"y":-420},{"k":"m","s":"0.5 μm|3","x":0.7,"y":-270},{"k":"m","s":"0.5 μm|3","x":0.71,"y":-210},{"k":"m","s":"0.5 μm|3","x":0.72,"y":-160},
{"k":"i1","s":"0.4 μm|1","x":0.51065,"y":-1554},{"k":"i1","s":"0.4 μm|1","x":0.5121,"y":-2480},{"k":"i1","s":"0.4 μm|1","x":0.51254,"y":-2430},{"k":"i1","s":"0.4 μm|1","x":0.51496,"y":-1554},
{"k":"i1","s":"0.45 μm|2","x":0.51108,"y":-1554},{"k":"i1","s":"0.45 μm|2","x":0.51311,"y":-3150},{"k":"i1","s":"0.45 μm|2","x":0.51607,"y":-1554},
{"k":"i1","s":"0.5 μm|3","x":0.5114,"y":-1554},{"k":"i1","s":"0.5 μm|3","x":0.5132,"y":-2850},{"k":"i1","s":"0.5 μm|3","x":0.514,"y":-3000},{"k":"i1","s":"0.5 μm|3","x":0.5161,"y":-2300},{"k":"i1","s":"0.5 μm|3","x":0.5176,"y":-1554},
{"k":"i2","s":"0.4 μm|1","x":0.6492,"y":-1030},{"k":"i2","s":"0.4 μm|1","x":0.6536,"y":-2700},{"k":"i2","s":"0.4 μm|1","x":0.6562,"y":-4100},{"k":"i2","s":"0.4 μm|1","x":0.658,"y":-2900},{"k":"i2","s":"0.4 μm|1","x":0.6603,"y":-2200},{"k":"i2","s":"0.4 μm|1","x":0.6681,"y":-1300},
{"k":"i2","s":"0.45 μm|2","x":0.6496,"y":-1030},{"k":"i2","s":"0.45 μm|2","x":0.6569,"y":-4550},{"k":"i2","s":"0.45 μm|2","x":0.6582,"y":-3100},{"k":"i2","s":"0.45 μm|2","x":0.6618,"y":-2600},{"k":"i2","s":"0.45 μm|2","x":0.6681,"y":-1500},
{"k":"i2","s":"0.5 μm|3","x":0.6508,"y":-1030},{"k":"i2","s":"0.5 μm|3","x":0.6557,"y":-2800},{"k":"i2","s":"0.5 μm|3","x":0.6577,"y":-3300},{"k":"i2","s":"0.5 μm|3","x":0.6585,"y":-3900},{"k":"i2","s":"0.5 μm|3","x":0.6603,"y":-3200},{"k":"i2","s":"0.5 μm|3","x":0.6681,"y":-1700}
],
"D":[
{"k":"f","x":0.47,"x2":0.7,"y":-5000,"y2":0},
{"k":"bx","x":0.4712,"x2":0.5089,"y":-3806,"y2":-3287},
{"k":"lbl","x":0.4902,"y":-3547,"t":"Y POL"},
{"k":"pl","x":0.4878,"y":-2266,"t":"(d)"},
{"k":"ar","x":0.5238,"y":-4689,"x2":0.5617,"y2":-4291},
{"k":"ar","x":0.6599,"y":-2682,"x2":0.6328,"y2":-1696},
{"k":"h1","x":0.5617,"y":-4291},
{"k":"h2","x":0.6328,"y":-1696},
{"k":"e1","x":0.5166,"y":-4446},
{"k":"e2","x":0.6652,"y":-2967},
{"k":"f1","x":0.6609,"x2":0.6747,"y":-3415,"y2":-1165},
{"k":"f2","x":0.51165,"x2":0.51671,"y":-4758,"y2":-3029},
{"k":"m","s":"0.75 μm|1","x":0.47,"y":-58},{"k":"m","s":"0.75 μm|1","x":0.48,"y":-70},{"k":"m","s":"0.75 μm|1","x":0.49,"y":-98},{"k":"m","s":"0.75 μm|1","x":0.5,"y":-29},{"k":"m","s":"0.75 μm|1","x":0.51,"y":-690},{"k":"m","s":"0.75 μm|1","x":0.512,"y":-1800},{"k":"m","s":"0.75 μm|1","x":0.5137,"y":-3030},{"k":"m","s":"0.75 μm|1","x":0.515,"y":-3965},{"k":"m","s":"0.75 μm|1","x":0.5162,"y":-3030},{"k":"m","s":"0.75 μm|1","x":0.518,"y":-2000},{"k":"m","s":"0.75 μm|1","x":0.52,"y":-1350},{"k":"m","s":"0.75 μm|1","x":0.525,"y":-700},{"k":"m","s":"0.75 μm|1","x":0.53,"y":-346},{"k":"m","s":"0.75 μm|1","x":0.54,"y":-150},{"k":"m","s":"0.75 μm|1","x":0.55,"y":-60},{"k":"m","s":"0.75 μm|1","x":0.56,"y":-17},{"k":"m","s":"0.75 μm|1","x":0.58,"y":-29},{"k":"m","s":"0.75 μm|1","x":0.6,"y":-58},{"k":"m","s":"0.75 μm|1","x":0.62,"y":-58},{"k":"m","s":"0.75 μm|1","x":0.63,"y":-45},{"k":"m","s":"0.75 μm|1","x":0.64,"y":-29},{"k":"m","s":"0.75 μm|1","x":0.65,"y":-173},{"k":"m","s":"0.75 μm|1","x":0.66,"y":-1100},{"k":"m","s":"0.75 μm|1","x":0.667,"y":-2883},{"k":"m","s":"0.75 μm|1","x":0.6681,"y":-3023},{"k":"m","s":"0.75 μm|1","x":0.6691,"y":-3062},{"k":"m","s":"0.75 μm|1","x":0.6706,"y":-2898},{"k":"m","s":"0.75 μm|1","x":0.6747,"y":-2140},{"k":"m","s":"0.75 μm|1","x":0.68,"y":-1400},{"k":"m","s":"0.75 μm|1","x":0.69,"y":-750},{"k":"m","s":"0.75 μm|1","x":0.7,"y":-490},
{"k":"m","s":"0.70 μm|2","x":0.47,"y":-50},{"k":"m","s":"0.70 μm|2","x":0.48,"y":-60},{"k":"m","s":"0.70 μm|2","x":0.49,"y":-90},{"k":"m","s":"0.70 μm|2","x":0.5,"y":-20},{"k":"m","s":"0.70 μm|2","x":0.51,"y":-850},{"k":"m","s":"0.70 μm|2","x":0.5129,"y":-3030},{"k":"m","s":"0.70 μm|2","x":0.514,"y":-4680},{"k":"m","s":"0.70 μm|2","x":0.5151,"y":-3030},{"k":"m","s":"0.70 μm|2","x":0.517,"y":-2000},{"k":"m","s":"0.70 μm|2","x":0.52,"y":-1150},{"k":"m","s":"0.70 μm|2","x":0.53,"y":-780},{"k":"m","s":"0.70 μm|2","x":0.54,"y":-260},{"k":"m","s":"0.70 μm|2","x":0.55,"y":-90},{"k":"m","s":"0.70 μm|2","x":0.56,"y":-20},{"k":"m","s":"0.70 μm|2","x":0.58,"y":-29},{"k":"m","s":"0.70 μm|2","x":0.6,"y":-58},{"k":"m","s":"0.70 μm|2","x":0.62,"y":-70},{"k":"m","s":"0.70 μm|2","x":0.63,"y":-60},{"k":"m","s":"0.70 μm|2","x":0.64,"y":-10},{"k":"m","s":"0.70 μm|2","x":0.65,"y":-300},{"k":"m","s":"0.70 μm|2","x":0.6609,"y":-1594},{"k":"m","s":"0.70 μm|2","x":0.6655,"y":-3078},{"k":"m","s":"0.70 μm|2","x":0.6665,"y":-3117},{"k":"m","s":"0.70 μm|2","x":0.6683,"y":-2766},{"k":"m","s":"0.70 μm|2","x":0.6701,"y":-2492},{"k":"m","s":"0.70 μm|2","x":0.6747,"y":-1984},{"k":"m","s":"0.70 μm|2","x":0.68,"y":-1200},{"k":"m","s":"0.70 μm|2","x":0.69,"y":-650},{"k":"m","s":"0.70 μm|2","x":0.7,"y":-450},
{"k":"m","s":"0.65 μm|3","x":0.47,"y":-40},{"k":"m","s":"0.65 μm|3","x":0.48,"y":-55},{"k":"m","s":"0.65 μm|3","x":0.49,"y":-85},{"k":"m","s":"0.65 μm|3","x":0.5,"y":-25},{"k":"m","s":"0.65 μm|3","x":0.51,"y":-1000},{"k":"m","s":"0.65 μm|3","x":0.5122,"y":-3030},{"k":"m","s":"0.65 μm|3","x":0.513,"y":-4513},{"k":"m","s":"0.65 μm|3","x":0.5145,"y":-3030},{"k":"m","s":"0.65 μm|3","x":0.517,"y":-1800},{"k":"m","s":"0.65 μm|3","x":0.52,"y":-1000},{"k":"m","s":"0.65 μm|3","x":0.53,"y":-300},{"k":"m","s":"0.65 μm|3","x":0.54,"y":-120},{"k":"m","s":"0.65 μm|3","x":0.55,"y":-50},{"k":"m","s":"0.65 μm|3","x":0.56,"y":-10},{"k":"m","s":"0.65 μm|3","x":0.58,"y":-20},{"k":"m","s":"0.65 μm|3","x":0.6,"y":-50},{"k":"m","s":"0.65 μm|3","x":0.62,"y":-60},{"k":"m","s":"0.65 μm|3","x":0.63,"y":-50},{"k":"m","s":"0.65 μm|3","x":0.64,"y":0},{"k":"m","s":"0.65 μm|3","x":0.65,"y":-280},{"k":"m","s":"0.65 μm|3","x":0.66,"y":-1900},{"k":"m","s":"0.65 μm|3","x":0.6647,"y":-3156},{"k":"m","s":"0.65 μm|3","x":0.6655,"y":-3180},{"k":"m","s":"0.65 μm|3","x":0.6665,"y":-3000},{"k":"m","s":"0.65 μm|3","x":0.6701,"y":-2320},{"k":"m","s":"0.65 μm|3","x":0.6747,"y":-1711},{"k":"m","s":"0.65 μm|3","x":0.68,"y":-1080},{"k":"m","s":"0.65 μm|3","x":0.69,"y":-620},{"k":"m","s":"0.65 μm|3","x":0.7,"y":-420},
{"k":"i1","s":"0.75 μm|1","x":0.6609,"y":-1242},{"k":"i1","s":"0.75 μm|1","x":0.667,"y":-2883},{"k":"i1","s":"0.75 μm|1","x":0.6681,"y":-3023},{"k":"i1","s":"0.75 μm|1","x":0.6691,"y":-3062},{"k":"i1","s":"0.75 μm|1","x":0.6706,"y":-2898},{"k":"i1","s":"0.75 μm|1","x":0.6747,"y":-2140},
{"k":"i1","s":"0.70 μm|2","x":0.6609,"y":-1594},{"k":"i1","s":"0.70 μm|2","x":0.6655,"y":-3078},{"k":"i1","s":"0.70 μm|2","x":0.6665,"y":-3117},{"k":"i1","s":"0.70 μm|2","x":0.6683,"y":-2766},{"k":"i1","s":"0.70 μm|2","x":0.6701,"y":-2492},{"k":"i1","s":"0.70 μm|2","x":0.6747,"y":-1984},
{"k":"i1","s":"0.65 μm|3","x":0.6609,"y":-1961},{"k":"i1","s":"0.65 μm|3","x":0.6647,"y":-3156},{"k":"i1","s":"0.65 μm|3","x":0.6655,"y":-3180},{"k":"i1","s":"0.65 μm|3","x":0.6665,"y":-3000},{"k":"i1","s":"0.65 μm|3","x":0.6701,"y":-2320},{"k":"i1","s":"0.65 μm|3","x":0.6747,"y":-1711},
{"k":"i2","s":"0.65 μm|3","x":0.5122,"y":-3029},{"k":"i2","s":"0.65 μm|3","x":0.51295,"y":-4513},{"k":"i2","s":"0.65 μm|3","x":0.51449,"y":-3029},
{"k":"i2","s":"0.70 μm|2","x":0.51289,"y":-3029},{"k":"i2","s":"0.70 μm|2","x":0.51396,"y":-4680},{"k":"i2","s":"0.70 μm|2","x":0.51511,"y":-3029},
{"k":"i2","s":"0.75 μm|1","x":0.51369,"y":-3029},{"k":"i2","s":"0.75 μm|1","x":0.51499,"y":-3965},{"k":"i2","s":"0.75 μm|1","x":0.51618,"y":-3029}
]
},
"layer":[
{"data":{"name":"A"},
 "encoding":{
  "x":{"field":"x","type":"quantitative","scale":{"domain":[0.45,0.75],"range":[95,621],"nice":false,"zero":false},"axis":{"title":"Lambda(μm)","orient":"bottom","offset":-471,"values":[0.45,0.5,0.55,0.6,0.65,0.7,0.75],"format":"~g","labelFontSize":24,"titleFontSize":29,"tickSize":-6,"labelPadding":19,"titlePadding":2}},
  "y":{"field":"y","type":"quantitative","scale":{"domain":[0,250],"range":[339,16],"nice":false,"zero":false},"axis":{"title":"Loss (dB/cm)","orient":"left","offset":-95,"values":[0,50,100,150,200,250],"format":"d","labelFontSize":24,"titleFontSize":39,"titleAnchor":"start","tickSize":-6,"labelPadding":13,"titlePadding":3}}},
 "layer":[
  {"transform":[{"filter":"datum.k=='m'"}],"mark":{"type":"line","strokeWidth":2},
   "encoding":{
    "color":{"field":"s","type":"nominal","scale":{"domain":["0.4 μm|1","0.45 μm|2","0.5 μm|3","0.4 μm|4","0.45 μm|5","0.5 μm|6"],"range":["#0072BD","#D95319","#EDB120","#7E2F8E","#77AC30","#4DBEEE"]},
     "legend":{"title":null,"orient":"none","legendX":506.7,"legendY":22.7,"labelExpr":"split(datum.label,'|')[0]","labelFontSize":23,"labelFont":"Liberation Serif","labelFontWeight":"bold","labelColor":"#262626","symbolType":"M -1.055 0 H 1.055","symbolSize":655,"symbolStrokeWidth":2,"rowPadding":0,"labelOffset":3,"padding":0}},
    "strokeDash":{"field":"s","type":"nominal","scale":{"domain":["0.4 μm|1","0.45 μm|2","0.5 μm|3","0.4 μm|4","0.45 μm|5","0.5 μm|6"],"range":[[1,0],[1,0],[1,0],[8,3,2,3],[8,3,2,3],[8,3,2,3]]},
     "legend":{"title":null,"orient":"none","legendX":506.7,"legendY":22.7,"labelExpr":"split(datum.label,'|')[0]","labelFontSize":23,"labelFont":"Liberation Serif","labelFontWeight":"bold","labelColor":"#262626","symbolType":"M -1.055 0 H 1.055","symbolSize":655,"symbolStrokeWidth":2,"rowPadding":0,"labelOffset":3,"padding":0}}}},
  {"transform":[{"filter":"datum.k=='f'"}],"mark":{"type":"rect","filled":false,"stroke":"#262626","strokeWidth":1.5},"encoding":{"x2":{"field":"x2"},"y2":{"field":"y2"}}},
  {"transform":[{"filter":"datum.k=='bx'"}],"mark":{"type":"rect","filled":false,"stroke":"#555","strokeWidth":1,"strokeDash":[5,2,1,2]},"encoding":{"x2":{"field":"x2"},"y2":{"field":"y2"}}},
  {"transform":[{"filter":"datum.k=='rc'"}],"mark":{"type":"rect","filled":false,"stroke":"#555","strokeWidth":1.2},"encoding":{"x2":{"field":"x2"},"y2":{"field":"y2"}}},
  {"transform":[{"filter":"datum.k=='ar'"}],"mark":{"type":"rule","stroke":"#333","strokeWidth":1},"encoding":{"x2":{"field":"x2"},"y2":{"field":"y2"}}},
  {"transform":[{"filter":"datum.k=='h1'"}],"mark":{"type":"point","shape":"triangle-up","size":45,"filled":true,"color":"#333","opacity":1,"angle":16},"encoding":{}},
  {"transform":[{"filter":"datum.k=='h2'"}],"mark":{"type":"point","shape":"triangle-up","size":45,"filled":true,"color":"#333","opacity":1,"angle":84},"encoding":{}},
  {"transform":[{"filter":"datum.k=='h3'"}],"mark":{"type":"point","shape":"triangle-up","size":45,"filled":true,"color":"#333","opacity":1,"angle":297},"encoding":{}},
  {"transform":[{"filter":"datum.k=='lbl'"}],"mark":{"type":"text","fontSize":15.5},"encoding":{"text":{"field":"t"}}},
  {"transform":[{"filter":"datum.k=='pl'"}],"mark":{"type":"text","fontSize":23},"encoding":{"text":{"field":"t"}}},
  {"transform":[{"filter":"datum.k=='e1'"}],"mark":{"type":"point","shape":"M -0.556 0 A 0.556 1 0 1 0 0.556 0 A 0.556 1 0 1 0 -0.556 0","size":3969,"filled":false,"stroke":"#333","strokeWidth":1,"opacity":1},"encoding":{}},
  {"transform":[{"filter":"datum.k=='e2'"}],"mark":{"type":"point","shape":"M -0.488 0 A 0.488 1 0 1 0 0.488 0 A 0.488 1 0 1 0 -0.488 0","size":1849,"filled":false,"stroke":"#333","strokeWidth":1,"opacity":1},"encoding":{}}
 ]},
{"data":{"name":"A"},
 "encoding":{
  "x":{"field":"x","type":"quantitative","scale":{"domain":[0.4872,0.4952],"range":[132,217],"nice":false,"zero":false},"axis":{"title":null,"orient":"bottom","offset":-713,"values":[0.49,0.495],"format":"~g","labelFontSize":16,"tickSize":-4,"labelPadding":12}},
  "y":{"field":"y","type":"quantitative","scale":{"domain":[58,137],"range":[97,15],"nice":false,"zero":false},"axis":{"title":null,"orient":"left","offset":-132,"values":[60,80,100,120],"format":"d","labelFontSize":16,"tickSize":-4,"labelPadding":12}}},
 "layer":[
  {"transform":[{"filter":"datum.k=='f1'"}],"mark":{"type":"rect","fill":"white","stroke":"#262626","strokeWidth":1},"encoding":{"x2":{"field":"x2"},"y2":{"field":"y2"}}},
  {"transform":[{"filter":"datum.k=='i1'"}],"mark":{"type":"line","strokeWidth":2},"encoding":{
    "color":{"field":"s","type":"nominal","scale":{"domain":["0.4 μm|1","0.45 μm|2","0.5 μm|3","0.4 μm|4","0.45 μm|5","0.5 μm|6"],"range":["#0072BD","#D95319","#EDB120","#7E2F8E","#77AC30","#4DBEEE"]},"legend":null}}}
 ]},
{"data":{"name":"A"},
 "encoding":{
  "x":{"field":"x","type":"quantitative","scale":{"domain":[0.6526,0.6612],"range":[337.5,416.7],"nice":false,"zero":false},"axis":{"title":null,"orient":"bottom","offset":-712,"values":[0.655,0.66],"format":"~g","labelFontSize":17,"tickSize":-4,"labelPadding":12}},
  "y":{"field":"y","type":"quantitative","scale":{"domain":[91,235],"range":[98,15],"nice":false,"zero":false},"axis":{"title":null,"orient":"left","offset":-337.5,"values":[100,150,200],"format":"d","labelFontSize":17,"tickSize":-4,"labelPadding":11}}},
 "layer":[
  {"transform":[{"filter":"datum.k=='f2'"}],"mark":{"type":"rect","fill":"white","stroke":"#262626","strokeWidth":1},"encoding":{"x2":{"field":"x2"},"y2":{"field":"y2"}}},
  {"transform":[{"filter":"datum.k=='i2'"}],"mark":{"type":"line","strokeWidth":2},"encoding":{
    "color":{"field":"s","type":"nominal","scale":{"domain":["0.4 μm|1","0.45 μm|2","0.5 μm|3","0.4 μm|4","0.45 μm|5","0.5 μm|6"],"range":["#0072BD","#D95319","#EDB120","#7E2F8E","#77AC30","#4DBEEE"]},"legend":null},
    "strokeDash":{"field":"s","type":"nominal","scale":{"domain":["0.4 μm|1","0.45 μm|2","0.5 μm|3","0.4 μm|4","0.45 μm|5","0.5 μm|6"],"range":[[1,0],[1,0],[1,0],[8,3,2,3],[8,3,2,3],[8,3,2,3]]},"legend":null}}}
 ]},
{"data":{"name":"A"},
 "encoding":{
  "x":{"field":"x","type":"quantitative","scale":{"domain":[0.51,0.515],"range":[257.5,336.7],"nice":false,"zero":false},"axis":{"title":null,"orient":"bottom","offset":-572,"values":[0.51,0.514],"format":"~g","labelFontSize":18,"tickSize":-4,"labelPadding":12}},
  "y":{"field":"y","type":"quantitative","scale":{"domain":[45,124],"range":[238,158],"nice":false,"zero":false},"axis":{"title":null,"orient":"left","offset":-257.5,"values":[50,100],"format":"d","labelFontSize":18,"tickSize":-4,"labelPadding":9}}},
 "layer":[
  {"transform":[{"filter":"datum.k=='f3'"}],"mark":{"type":"rect","fill":"white","stroke":"#262626","strokeWidth":1},"encoding":{"x2":{"field":"x2"},"y2":{"field":"y2"}}},
  {"transform":[{"filter":"datum.k=='i3'"}],"mark":{"type":"line","strokeWidth":2},"encoding":{
    "color":{"field":"s","type":"nominal","scale":{"domain":["0.4 μm|1","0.45 μm|2","0.5 μm|3","0.4 μm|4","0.45 μm|5","0.5 μm|6"],"range":["#0072BD","#D95319","#EDB120","#7E2F8E","#77AC30","#4DBEEE"]},"legend":null},
    "strokeDash":{"field":"s","type":"nominal","scale":{"domain":["0.4 μm|1","0.45 μm|2","0.5 μm|3","0.4 μm|4","0.45 μm|5","0.5 μm|6"],"range":[[1,0],[1,0],[1,0],[8,3,2,3],[8,3,2,3],[8,3,2,3]]},"legend":null}}}
 ]},
{"data":{"name":"C"},
 "encoding":{
  "x":{"field":"x","type":"quantitative","scale":{"domain":[0.47,0.75],"range":[741,1238],"nice":false,"zero":false},"axis":{"title":"Lambda(μm)","orient":"bottom","offset":-487,"values":[0.5,0.55,0.6,0.65,0.7,0.75],"format":"~g","labelFontSize":29,"titleFontSize":33,"tickSize":-6,"labelPadding":21,"titlePadding":5}},
  "y":{"field":"y","type":"quantitative","scale":{"domain":[0,150],"range":[323,19],"nice":false,"zero":false},"axis":{"title":"Loss (dB/cm)","orient":"left","offset":-741,"values":[0,25,50,75,100,125,150],"format":"d","labelFontSize":29,"titleFontSize":33,"tickSize":-6,"labelPadding":14,"titlePadding":4}}},
 "layer":[
  {"transform":[{"filter":"datum.k=='m'"}],"mark":{"type":"line","strokeWidth":4},
   "encoding":{
    "color":{"field":"s","type":"nominal","scale":{"domain":["0.75 μm|1","0.70 μm|2","0.65 μm|3","0.75 μm|4","0.70 μm|5","0.65 μm|6"],"range":["#0072BD","#D95319","#EDB120","#7E2F8E","#77AC30","#4DBEEE"]},
     "legend":{"title":null,"orient":"none","direction":"horizontal","legendX":1012.5,"legendY":22.5,"columns":2,"columnPadding":6,"labelExpr":"split(datum.label,'|')[0]","labelFontSize":22,"labelFont":"Liberation Serif","labelFontWeight":"bold","labelColor":"#262626","symbolType":"M -1.458 0 H 1.458","symbolSize":576,"symbolStrokeWidth":4,"rowPadding":0,"labelOffset":7.5,"padding":0}},
    "strokeDash":{"field":"s","type":"nominal","scale":{"domain":["0.75 μm|1","0.70 μm|2","0.65 μm|3","0.75 μm|4","0.70 μm|5","0.65 μm|6"],"range":[[1,0],[1,0],[1,0],[8,4],[8,4],[9,4,3,4]]},
     "legend":{"title":null,"orient":"none","direction":"horizontal","legendX":1012.5,"legendY":22.5,"columns":2,"columnPadding":6,"labelExpr":"split(datum.label,'|')[0]","labelFontSize":22,"labelFont":"Liberation Serif","labelFontWeight":"bold","labelColor":"#262626","symbolType":"M -1.458 0 H 1.458","symbolSize":576,"symbolStrokeWidth":4,"rowPadding":0,"labelOffset":7.5,"padding":0}}}},
  {"transform":[{"filter":"datum.k=='f'"}],"mark":{"type":"rect","filled":false,"stroke":"#262626","strokeWidth":1.5},"encoding":{"x2":{"field":"x2"},"y2":{"field":"y2"}}},
  {"transform":[{"filter":"datum.k=='bx'"}],"mark":{"type":"rect","filled":false,"stroke":"#555","strokeWidth":1,"strokeDash":[5,2,1,2]},"encoding":{"x2":{"field":"x2"},"y2":{"field":"y2"}}},
  {"transform":[{"filter":"datum.k=='rc'"}],"mark":{"type":"rect","filled":false,"stroke":"#262626","strokeWidth":1.2},"encoding":{"x2":{"field":"x2"},"y2":{"field":"y2"}}},
  {"transform":[{"filter":"datum.k=='ar'"}],"mark":{"type":"rule","stroke":"#333","strokeWidth":1},"encoding":{"x2":{"field":"x2"},"y2":{"field":"y2"}}},
  {"transform":[{"filter":"datum.k=='lbl'"}],"mark":{"type":"text","fontSize":19.5},"encoding":{"text":{"field":"t"}}},
  {"transform":[{"filter":"datum.k=='pl'"}],"mark":{"type":"text","fontSize":22},"encoding":{"text":{"field":"t"}}}
 ]},
{"data":{"name":"C"},
 "encoding":{
  "x":{"field":"x","type":"quantitative","scale":{"domain":[0.5038,0.5267],"range":[882,979],"nice":false,"zero":false},"axis":{"title":null,"orient":"bottom","offset":-639,"values":[0.51,0.52],"format":"~g","labelFontSize":16,"tickSize":-4,"labelPadding":12}},
  "y":{"field":"y","type":"quantitative","scale":{"domain":[54.5,98.7],"range":[171,87],"nice":false,"zero":false},"axis":{"title":null,"orient":"left","offset":-882,"values":[55,75,95],"format":"d","labelFontSize":17,"tickSize":-4,"labelPadding":10}}},
 "layer":[
  {"transform":[{"filter":"datum.k=='f1'"}],"mark":{"type":"rect","fill":"white","stroke":"#262626","strokeWidth":1},"encoding":{"x2":{"field":"x2"},"y2":{"field":"y2"}}},
  {"transform":[{"filter":"datum.k=='i1'"}],"mark":{"type":"line","strokeWidth":3.5},"encoding":{
    "color":{"field":"s","type":"nominal","scale":{"domain":["0.75 μm|1","0.70 μm|2","0.65 μm|3","0.75 μm|4","0.70 μm|5","0.65 μm|6"],"range":["#0072BD","#D95319","#EDB120","#7E2F8E","#77AC30","#4DBEEE"]},"legend":null},
    "strokeDash":{"field":"s","type":"nominal","scale":{"domain":["0.75 μm|1","0.70 μm|2","0.65 μm|3","0.75 μm|4","0.70 μm|5","0.65 μm|6"],"range":[[1,0],[1,0],[1,0],[8,4],[8,4],[9,4,3,4]]},"legend":null}}}
 ]},
{"data":{"name":"C"},
 "encoding":{
  "x":{"field":"x","type":"quantitative","scale":{"domain":[0.479,0.5026],"range":[889,964],"nice":false,"zero":false},"axis":{"title":null,"orient":"bottom","offset":-533,"values":[0.48,0.49,0.5],"format":"~g","labelFontSize":16,"tickSize":-4,"labelPadding":12}},
  "y":{"field":"y","type":"quantitative","scale":{"domain":[40.7,80.6],"range":[277,204],"nice":false,"zero":false},"axis":{"title":null,"orient":"left","offset":-889,"values":[50,75],"format":"d","labelFontSize":17,"tickSize":-4,"labelPadding":10}}},
 "layer":[
  {"transform":[{"filter":"datum.k=='f2'"}],"mark":{"type":"rect","fill":"white","stroke":"#262626","strokeWidth":1},"encoding":{"x2":{"field":"x2"},"y2":{"field":"y2"}}},
  {"transform":[{"filter":"datum.k=='i2'"}],"mark":{"type":"line","strokeWidth":3.5},"encoding":{
    "color":{"field":"s","type":"nominal","scale":{"domain":["0.75 μm|1","0.70 μm|2","0.65 μm|3","0.75 μm|4","0.70 μm|5","0.65 μm|6"],"range":["#0072BD","#D95319","#EDB120","#7E2F8E","#77AC30","#4DBEEE"]},"legend":null}}}
 ]},
{"data":{"name":"C"},
 "encoding":{
  "x":{"field":"x","type":"quantitative","scale":{"domain":[0.6585,0.6813],"range":[1142,1213],"nice":false,"zero":false},"axis":{"title":null,"orient":"bottom","offset":-540,"values":[0.66,0.68],"format":"~g","labelFontSize":16,"tickSize":-4,"labelPadding":12}},
  "y":{"field":"y","type":"quantitative","scale":{"domain":[47.2,86.3],"range":[270,201],"nice":false,"zero":false},"axis":{"title":null,"orient":"left","offset":-1142,"values":[50,75],"format":"d","labelFontSize":17,"tickSize":-4,"labelPadding":10}}},
 "layer":[
  {"transform":[{"filter":"datum.k=='f3'"}],"mark":{"type":"rect","fill":"white","stroke":"#262626","strokeWidth":1},"encoding":{"x2":{"field":"x2"},"y2":{"field":"y2"}}},
  {"transform":[{"filter":"datum.k=='i3'"}],"mark":{"type":"line","strokeWidth":3.5},"encoding":{
    "color":{"field":"s","type":"nominal","scale":{"domain":["0.75 μm|1","0.70 μm|2","0.65 μm|3","0.75 μm|4","0.70 μm|5","0.65 μm|6"],"range":["#0072BD","#D95319","#EDB120","#7E2F8E","#77AC30","#4DBEEE"]},"legend":null},
    "strokeDash":{"field":"s","type":"nominal","scale":{"domain":["0.75 μm|1","0.70 μm|2","0.65 μm|3","0.75 μm|4","0.70 μm|5","0.65 μm|6"],"range":[[1,0],[1,0],[1,0],[8,4],[8,4],[9,4,3,4]]},"legend":null}}}
 ]},
{"data":{"name":"B"},
 "encoding":{
  "x":{"field":"x","type":"quantitative","scale":{"domain":[0.48,0.72],"range":[109,632],"nice":false,"zero":false},"axis":{"title":"Lambda(μm)","orient":"bottom","offset":-67,"values":[0.5,0.55,0.6,0.65,0.7],"format":"~g","labelFontSize":24,"titleFontSize":27,"tickSize":-6,"labelPadding":16,"titlePadding":3}},
  "y":{"field":"y","type":"quantitative","scale":{"domain":[-5000,0],"range":[743,419],"nice":false,"zero":false},"axis":{"title":"AS (RIU⁻¹)","orient":"left","offset":-109,"values":[-5000,-4000,-3000,-2000,-1000,0],"format":"d","labelFontSize":24,"titleFontSize":27,"tickSize":-6,"labelPadding":13,"titlePadding":5}}},
 "layer":[
  {"transform":[{"filter":"datum.k=='m'"}],"mark":{"type":"line","strokeWidth":2},
   "encoding":{
    "color":{"field":"s","type":"nominal","scale":{"domain":["0.4 μm|1","0.45 μm|2","0.5 μm|3"],"range":["#0072BD","#D95319","#EDB120"]},
     "legend":{"title":null,"orient":"none","legendX":519.5,"legendY":623,"labelExpr":"split(datum.label,'|')[0]","labelFontSize":23,"labelFont":"Liberation Serif","labelFontWeight":"bold","labelColor":"#262626","symbolType":"M -1.037 0 H 1.037","symbolSize":729,"symbolStrokeWidth":2.5,"rowPadding":0,"labelOffset":2.5,"padding":0}}}},
  {"transform":[{"filter":"datum.k=='f'"}],"mark":{"type":"rect","filled":false,"stroke":"#262626","strokeWidth":1.5},"encoding":{"x2":{"field":"x2"},"y2":{"field":"y2"}}},
  {"transform":[{"filter":"datum.k=='bx'"}],"mark":{"type":"rect","filled":false,"stroke":"#555","strokeWidth":1,"strokeDash":[5,2,1,2]},"encoding":{"x2":{"field":"x2"},"y2":{"field":"y2"}}},
  {"transform":[{"filter":"datum.k=='rc'"}],"mark":{"type":"rect","filled":false,"stroke":"#555","strokeWidth":1.2},"encoding":{"x2":{"field":"x2"},"y2":{"field":"y2"}}},
  {"transform":[{"filter":"datum.k=='ar'"}],"mark":{"type":"rule","stroke":"#333","strokeWidth":1},"encoding":{"x2":{"field":"x2"},"y2":{"field":"y2"}}},
  {"transform":[{"filter":"datum.k=='h1'"}],"mark":{"type":"point","shape":"triangle-up","size":45,"filled":true,"color":"#333","opacity":1,"angle":141},"encoding":{}},
  {"transform":[{"filter":"datum.k=='h2'"}],"mark":{"type":"point","shape":"triangle-up","size":45,"filled":true,"color":"#333","opacity":1,"angle":338},"encoding":{}},
  {"transform":[{"filter":"datum.k=='lbl'"}],"mark":{"type":"text","fontSize":15.5},"encoding":{"text":{"field":"t"}}},
  {"transform":[{"filter":"datum.k=='pl'"}],"mark":{"type":"text","fontSize":24},"encoding":{"text":{"field":"t"}}},
  {"transform":[{"filter":"datum.k=='e1'"}],"mark":{"type":"point","shape":"M -0.607 0 A 0.607 1 0 1 0 0.607 0 A 0.607 1 0 1 0 -0.607 0","size":3136,"filled":false,"stroke":"#333","strokeWidth":1,"opacity":1},"encoding":{}}
 ]},
{"data":{"name":"B"},
 "encoding":{
  "x":{"field":"x","type":"quantitative","scale":{"domain":[0.5084,0.519],"range":[235,334],"nice":false,"zero":false},"axis":{"title":null,"orient":"bottom","offset":-104,"values":[0.51,0.514,0.518],"format":"~g","labelFontSize":15,"tickSize":-4,"labelPadding":13}},
  "y":{"field":"y","type":"quantitative","scale":{"domain":[-3180,-1554],"range":[706,615],"nice":false,"zero":false},"axis":{"title":null,"orient":"left","offset":-235,"values":[-3000,-2500,-2000],"format":"d","labelFontSize":15,"tickSize":-4,"labelPadding":10}}},
 "layer":[
  {"transform":[{"filter":"datum.k=='f1'"}],"mark":{"type":"rect","fill":"white","stroke":"#262626","strokeWidth":1},"encoding":{"x2":{"field":"x2"},"y2":{"field":"y2"}}},
  {"transform":[{"filter":"datum.k=='i1'"}],"mark":{"type":"line","strokeWidth":2},"encoding":{
    "color":{"field":"s","type":"nominal","scale":{"domain":["0.4 μm|1","0.45 μm|2","0.5 μm|3"],"range":["#0072BD","#D95319","#EDB120"]},"legend":null}}}
 ]},
{"data":{"name":"B"},
 "encoding":{
  "x":{"field":"x","type":"quantitative","scale":{"domain":[0.6492,0.6681],"range":[362,460],"nice":false,"zero":false},"axis":{"title":null,"orient":"bottom","offset":-224,"values":[0.65,0.66],"format":"~g","labelFontSize":15,"tickSize":-4,"labelPadding":13}},
  "y":{"field":"y","type":"quantitative","scale":{"domain":[-4708,-1028],"range":[586,494],"nice":false,"zero":false},"axis":{"title":null,"orient":"left","offset":-362,"values":[-4000,-3000,-2000],"format":"d","labelFontSize":15,"tickSize":-4,"labelPadding":10}}},
 "layer":[
  {"transform":[{"filter":"datum.k=='f2'"}],"mark":{"type":"rect","fill":"white","stroke":"#262626","strokeWidth":1},"encoding":{"x2":{"field":"x2"},"y2":{"field":"y2"}}},
  {"transform":[{"filter":"datum.k=='i2'"}],"mark":{"type":"line","strokeWidth":2},"encoding":{
    "color":{"field":"s","type":"nominal","scale":{"domain":["0.4 μm|1","0.45 μm|2","0.5 μm|3"],"range":["#0072BD","#D95319","#EDB120"]},"legend":null}}}
 ]},
{"data":{"name":"D"},
 "encoding":{
  "x":{"field":"x","type":"quantitative","scale":{"domain":[0.47,0.7],"range":[792,1271],"nice":false,"zero":false},"axis":{"title":"Lambda(μm)","orient":"bottom","offset":-99,"values":[0.5,0.55,0.6,0.65,0.7],"format":"~g","labelFontSize":32,"titleFontSize":38,"tickSize":-6,"labelPadding":21,"titlePadding":3}},
  "y":{"field":"y","type":"quantitative","scale":{"domain":[-5000,0],"range":[711,422],"nice":false,"zero":false},"axis":{"title":"AS (RIU⁻¹)","orient":"left","offset":-792,"values":[-5000,-4000,-3000,-2000,-1000,0],"format":"d","labelFontSize":32,"titleFontSize":38,"tickSize":-6,"labelPadding":23,"titlePadding":3}}},
 "layer":[
  {"transform":[{"filter":"datum.k=='m'"}],"mark":{"type":"line","strokeWidth":3.5},
   "encoding":{
    "color":{"field":"s","type":"nominal","scale":{"domain":["0.75 μm|1","0.70 μm|2","0.65 μm|3"],"range":["#0072BD","#D95319","#EDB120"]},
     "legend":{"title":null,"orient":"none","legendX":1115.75,"legendY":621,"labelExpr":"split(datum.label,'|')[0]","labelFontSize":25,"labelFont":"Liberation Serif","labelFontWeight":"bold","labelColor":"#262626","symbolType":"M -1.263 0 H 1.263","symbolSize":812,"symbolStrokeWidth":4,"rowPadding":0,"labelOffset":5.75,"padding":0}}}},
  {"transform":[{"filter":"datum.k=='f'"}],"mark":{"type":"rect","filled":false,"stroke":"#262626","strokeWidth":2},"encoding":{"x2":{"field":"x2"},"y2":{"field":"y2"}}},
  {"transform":[{"filter":"datum.k=='bx'"}],"mark":{"type":"rect","filled":false,"stroke":"#555","strokeWidth":1,"strokeDash":[5,2,1,2]},"encoding":{"x2":{"field":"x2"},"y2":{"field":"y2"}}},
  {"transform":[{"filter":"datum.k=='ar'"}],"mark":{"type":"rule","stroke":"#333","strokeWidth":1},"encoding":{"x2":{"field":"x2"},"y2":{"field":"y2"}}},
  {"transform":[{"filter":"datum.k=='h1'"}],"mark":{"type":"point","shape":"triangle-up","size":45,"filled":true,"color":"#333","opacity":1,"angle":74},"encoding":{}},
  {"transform":[{"filter":"datum.k=='h2'"}],"mark":{"type":"point","shape":"triangle-up","size":45,"filled":true,"color":"#333","opacity":1,"angle":315},"encoding":{}},
  {"transform":[{"filter":"datum.k=='lbl'"}],"mark":{"type":"text","fontSize":21},"encoding":{"text":{"field":"t"}}},
  {"transform":[{"filter":"datum.k=='pl'"}],"mark":{"type":"text","fontSize":25},"encoding":{"text":{"field":"t"}}},
  {"transform":[{"filter":"datum.k=='e1'"}],"mark":{"type":"point","shape":"M -0.742 0 A 0.742 1 0 1 0 0.742 0 A 0.742 1 0 1 0 -0.742 0","size":3844,"filled":false,"stroke":"#333","strokeWidth":1,"opacity":1},"encoding":{}},
  {"transform":[{"filter":"datum.k=='e2'"}],"mark":{"type":"point","shape":"M -1 0 A 1 0.723 0 1 0 1 0 A 1 0.723 0 1 0 -1 0","size":4225,"filled":false,"stroke":"#333","strokeWidth":1,"opacity":1},"encoding":{}}
 ]},
{"data":{"name":"D"},
 "encoding":{
  "x":{"field":"x","type":"quantitative","scale":{"domain":[0.6609,0.6747],"range":[1025,1137.5],"nice":false,"zero":false},"axis":{"title":null,"orient":"bottom","offset":-267,"values":[0.662,0.67],"format":"~g","labelFontSize":23,"tickSize":-4,"labelPadding":12}},
  "y":{"field":"y","type":"quantitative","scale":{"domain":[-3415,-1165],"range":[543,447],"nice":false,"zero":false},"axis":{"title":null,"orient":"left","offset":-1025,"values":[-3000,-2500,-2000,-1500],"format":"d","labelFontSize":19,"tickSize":-4,"labelPadding":11}}},
 "layer":[
  {"transform":[{"filter":"datum.k=='f1'"}],"mark":{"type":"rect","fill":"white","stroke":"#262626","strokeWidth":1},"encoding":{"x2":{"field":"x2"},"y2":{"field":"y2"}}},
  {"transform":[{"filter":"datum.k=='i1'"}],"mark":{"type":"line","strokeWidth":3.5},"encoding":{
    "color":{"field":"s","type":"nominal","scale":{"domain":["0.75 μm|1","0.70 μm|2","0.65 μm|3"],"range":["#0072BD","#D95319","#EDB120"]},"legend":null}}}
 ]},
{"data":{"name":"D"},
 "encoding":{
  "x":{"field":"x","type":"quantitative","scale":{"domain":[0.51165,0.51671],"range":[971,1090],"nice":false,"zero":false},"axis":{"title":null,"orient":"bottom","offset":-132,"values":[0.512,0.516],"format":"~g","labelFontSize":23,"tickSize":-4,"labelPadding":14}},
  "y":{"field":"y","type":"quantitative","scale":{"domain":[-4758,-3029],"range":[678,589],"nice":false,"zero":false},"axis":{"title":null,"orient":"left","offset":-971,"values":[-4500,-4000,-3500],"format":"d","labelFontSize":22,"tickSize":-4,"labelPadding":11}}},
 "layer":[
  {"transform":[{"filter":"datum.k=='f2'"}],"mark":{"type":"rect","fill":"white","stroke":"#262626","strokeWidth":1},"encoding":{"x2":{"field":"x2"},"y2":{"field":"y2"}}},
  {"transform":[{"filter":"datum.k=='i2'"}],"mark":{"type":"line","strokeWidth":3.5},"encoding":{
    "color":{"field":"s","type":"nominal","scale":{"domain":["0.75 μm|1","0.70 μm|2","0.65 μm|3"],"range":["#0072BD","#D95319","#EDB120"]},"legend":null}}}
 ]}
],
"resolve":{"scale":{"x":"independent","y":"independent","color":"independent","strokeDash":"independent"},"axis":{"x":"independent","y":"independent"},"legend":{"color":"independent","strokeDash":"independent"}}
}
